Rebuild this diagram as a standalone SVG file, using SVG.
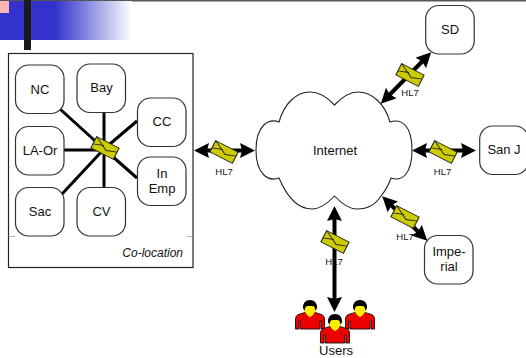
<svg xmlns="http://www.w3.org/2000/svg" xmlns:xlink="http://www.w3.org/1999/xlink" width="526" height="358" viewBox="0 0 526 358">
<style>
text{font-family:"Liberation Sans",Arial,sans-serif;fill:#111;text-anchor:middle}
.n{font-size:13px}
.h{font-size:9.5px}
.b{fill:#fff;stroke:#333;stroke-width:1.2}
.c{stroke:#000;stroke-width:3;fill:none}
.a{stroke:#000;stroke-width:4;fill:none;marker-start:url(#ah);marker-end:url(#ah)}
.e{fill:#cccc00;stroke:#222;stroke-width:1}
.ef{fill:none;stroke:#222;stroke-width:1}
</style>
<defs>
<linearGradient id="g" x1="0" x2="1" y1="0" y2="0">
<stop offset="0" stop-color="#3333cc"/>
<stop offset="0.42" stop-color="#3333cc"/>
<stop offset="1" stop-color="#ffffff"/>
</linearGradient>
<marker id="ah" markerUnits="userSpaceOnUse" markerWidth="16" markerHeight="15" refX="9" refY="7.500" orient="auto-start-reverse" viewBox="0 0 16 15">
<path d="M0 0L15 7.500L0 15L2 7.500Z" fill="#000"/>
</marker>
<g id="env">
<path class="e" d="M-12 -7H12V7H-12Z"/>
<path class="ef" d="M-12 -7L2 2L12 -2M-12 2L-2 -2"/>
</g>
<g id="user">
<path d="M-14.500 23V13Q-14.500 9 -10 8L-5 6.500H5L10 8Q14.500 9 14.500 13V23H11V15H10V23H-10V15H-11V23Z" fill="#ee0000" stroke="#111" stroke-width="0.9"/>
<path d="M-5.500 -1H5.500V5Q3 10 0 11Q-3 10 -5.500 5Z" fill="#ffee00"/>
<path d="M-7 2Q-7 -6 0 -6Q7 -6 7 2L5.500 5Q5 0 2.500 0H-2.500Q-5 0 -5.500 5Z" fill="#000"/>
</g>
</defs>

<rect x="0" y="0" width="526" height="1.500" fill="#555"/>
<rect x="0" y="1" width="132" height="39" fill="url(#g)"/>
<rect x="0" y="1" width="9" height="12" fill="#ffb3b3"/>
<rect x="24" y="0" width="7" height="50" fill="#1a1a1a"/>

<g id="co-location">
<rect x="8.500" y="53.500" width="184.500" height="214" fill="#fff" stroke="#222" stroke-width="1.200"/>
<path d="M8.500 236.500H15M186 236.500H193" stroke="#999" stroke-width="0.700" fill="none"/>
<text x="183" y="257" text-anchor="end" style="text-anchor:end;font-style:italic;font-size:12px">Co-location</text>
</g>

<g id="internet">
<path fill="#fff" stroke="#222" stroke-width="1.100" d="M334.500 105C326 96 318 92 310 92C296 92 284 104 279 122C268 118 256 126 256 150C256 174 268 182 279 178C287 197 298 209 312 209C320 209 328 203 334.500 196C341 203 349 209 357 209C368 209 376 204 381 196C386 190 389 184 391 178C402 182 412 174 412 150C412 126 402 118 390 122C385 104 372 92 358 92C350 92 342 97 334.500 105Z"/>
<text class="n" x="335" y="154.500">Internet</text>
</g>

<g id="connectors">
<path class="c" d="M60 109L104 149M104 112V188M137 121L104 149M64 150H104M137 178L104 149M62 194L104 149"/>
<path class="a" d="M200 150.500H249"/>
<path class="a" d="M385 99.500L427 56.500"/>
<path class="a" d="M418 150.500H470"/>
<path class="a" d="M386.500 200.500L423 236.500"/>
<path class="a" d="M334.500 212V306"/>
</g>

<g id="hub"><use xlink:href="#env" href="#env" transform="translate(105 148) rotate(27) scale(1.050 .9)"/></g>
<g id="hl7-left"><use xlink:href="#env" href="#env" transform="translate(224 152) rotate(27) scale(1.050 .9)"/><text class="h" x="224" y="174.500">HL7</text></g>
<g id="hl7-sd"><use xlink:href="#env" href="#env" transform="translate(410 75) rotate(27) scale(1.050 .9)"/><text class="h" x="410" y="96">HL7</text></g>
<g id="hl7-sanj"><use xlink:href="#env" href="#env" transform="translate(443 152) rotate(27) scale(1.050 .9)"/><text class="h" x="442.500" y="174.500">HL7</text></g>
<g id="hl7-imperial"><use xlink:href="#env" href="#env" transform="translate(405 217) rotate(27) scale(1.050 .9)"/><text class="h" x="405" y="239.500">HL7</text></g>
<g id="hl7-users"><use xlink:href="#env" href="#env" transform="translate(335 242) rotate(27) scale(1.050 .9)"/><text class="h" x="334" y="264.500">HL7</text></g>

<g id="NC"><rect class="b" x="15.500" y="65" width="48.500" height="48.500" rx="13"/><text class="n" x="40" y="93.500">NC</text></g>
<g id="Bay"><rect class="b" x="77" y="64" width="48.500" height="48.500" rx="13"/><text class="n" x="101.500" y="91.500">Bay</text></g>
<g id="CC"><rect class="b" x="137.500" y="98" width="48.500" height="48.500" rx="13"/><text class="n" x="162" y="125.500">CC</text></g>
<g id="LA-Or"><rect class="b" x="15.500" y="126.500" width="48.500" height="48.500" rx="13"/><text class="n" x="40" y="154.500">LA-Or</text></g>
<g id="InEmp"><rect class="b" x="137.500" y="157" width="48.500" height="48.500" rx="13"/><text class="n" x="162" y="177.500">In</text><text class="n" x="162" y="192.500">Emp</text></g>
<g id="Sac"><rect class="b" x="15.500" y="187.500" width="48.500" height="48.500" rx="13"/><text class="n" x="40" y="215.500">Sac</text></g>
<g id="CV"><rect class="b" x="77" y="187.500" width="48.500" height="48.500" rx="13"/><text class="n" x="101.500" y="215.500">CV</text></g>
<g id="SD"><rect class="b" x="425.700" y="5.500" width="48.500" height="48.500" rx="13"/><text class="n" x="450" y="33.500">SD</text></g>
<g id="SanJ"><rect class="b" x="479.700" y="126" width="48.500" height="48.500" rx="13"/><text class="n" x="504" y="153.500">San J</text></g>
<g id="Imperial"><rect class="b" x="424.500" y="235.500" width="48.500" height="48.500" rx="13"/><text class="n" x="449" y="255.500">Impe-</text><text class="n" x="449" y="270.500">rial</text></g>

<g id="Users">
<use xlink:href="#user" href="#user" transform="translate(310 306)"/>
<use xlink:href="#user" href="#user" transform="translate(360 306)"/>
<use xlink:href="#user" href="#user" transform="translate(335 320)"/>
<text class="n" x="336" y="355">Users</text>
</g>
</svg>
